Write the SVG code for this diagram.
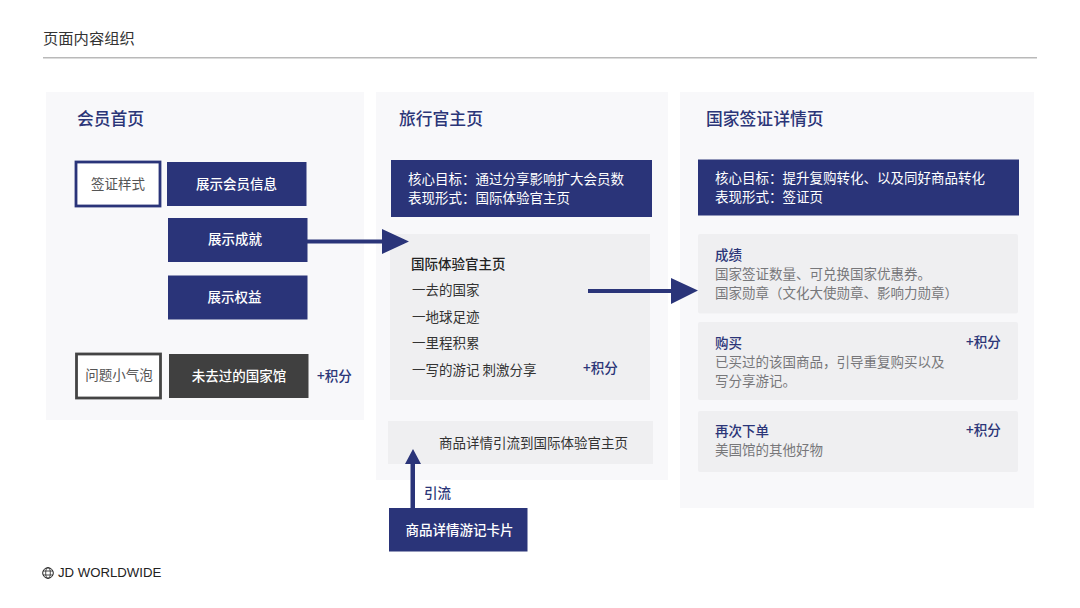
<svg xmlns="http://www.w3.org/2000/svg" width="1080" height="608" viewBox="0 0 1080 608">
<style>
text{font-family:"Noto Sans CJK SC","Liberation Sans",sans-serif;font-size:13.5px;fill:#333}
.h{font-size:16.8px;fill:#2b3578;font-weight:500}
.w{fill:#fff;font-weight:500}
.c{text-anchor:middle}
.n{fill:#2a3479}
.s{fill:#2b3578;font-weight:500;font-size:13.5px}
.g{fill:#77777a}
.p{fill:#f8f8fa}
.q{fill:#efeff1}
.f{fill:#2a3479;stroke:none}
</style>
<rect width="1080" height="608" fill="#fff"/>
<text x="43" y="43.500" style="font-size:15.300px" fill="#222">页面内容组织</text>
<rect x="43" y="57" width="994" height="1.5" fill="#b9b9b9"/>
<g id="panel-member">
<rect class="p" x="46" y="92" width="318" height="328"/>
<text class="h" x="77" y="124.500">会员首页</text>
</g>
<g id="panel-guide">
<rect class="p" x="376" y="92" width="292" height="388"/>
<text class="h" x="399" y="124.500">旅行官主页</text>
</g>
<g id="panel-visa">
<rect class="p" x="680" y="92" width="354" height="416"/>
<text class="h" x="706" y="124.500">国家签证详情页</text>
</g>
<g id="node-visa-style">
<rect x="76" y="162" width="84" height="44" fill="#fff" stroke="#2a3479" stroke-width="2.800"/>
<text class="c" x="118" y="188.500" style="fill:#555">签证样式</text>
</g>
<g id="node-member-info">
<rect class="n" x="167" y="162" width="139.500" height="44"/>
<text class="c w" x="236.500" y="188.500">展示会员信息</text>
</g>
<g id="node-achievement">
<rect class="n" x="168" y="218" width="139.500" height="44"/>
<text class="c w" x="235" y="244">展示成就</text>
</g>
<g id="node-rights">
<rect class="n" x="168" y="275.500" width="139.500" height="44"/>
<text class="c w" x="234.500" y="302">展示权益</text>
</g>
<g id="node-bubble">
<rect x="76.500" y="354" width="84" height="44" fill="#fff" stroke="#444" stroke-width="2.800"/>
<text class="c" x="119" y="380" style="fill:#555">问题小气泡</text>
</g>
<g id="node-pavilion">
<rect x="169" y="354" width="139.500" height="44" fill="#404040"/>
<text class="c w" x="239" y="380.500">未去过的国家馆</text>
</g>
<text class="s" x="317" y="381">+积分</text>
<g id="node-guide-goal">
<rect class="n" x="391" y="160" width="261" height="57"/>
<text class="w" style="font-weight:400" x="408" y="184">核心目标：通过分享影响扩大会员数</text>
<text class="w" style="font-weight:400" x="408" y="203">表现形式：国际体验官主页</text>
</g>
<g id="node-guide-home">
<rect class="q" x="390" y="234" width="260" height="166"/>
<text x="411" y="269" style="font-weight:500;fill:#222">国际体验官主页</text>
<text x="412" y="295">一去的国家</text>
<text x="412" y="321.500">一地球足迹</text>
<text x="412" y="348">一里程积累</text>
<text x="412" y="374.500">一写的游记 刺激分享</text>
<text class="s" x="583" y="372.500">+积分</text>
</g>
<g id="node-product-link">
<rect class="q" x="388" y="421" width="265" height="43"/>
<text x="439" y="448">商品详情引流到国际体验官主页</text>
</g>
<g id="node-product-card">
<rect class="n" x="389" y="508" width="138.500" height="43.500"/>
<text class="c w" x="459.500" y="535">商品详情游记卡片</text>
</g>
<text class="s" x="424" y="498">引流</text>
<g id="node-visa-goal">
<rect class="n" x="698" y="159.500" width="321" height="56"/>
<text class="w" style="font-weight:400" x="715" y="183">核心目标：提升复购转化、以及同好商品转化</text>
<text class="w" style="font-weight:400" x="715" y="202">表现形式：签证页</text>
</g>
<g id="node-score">
<rect class="q" x="698" y="234" width="320" height="79.500" rx="2"/>
<text class="s" x="715" y="260">成绩</text>
<text class="g" x="715" y="279">国家签证数量、可兑换国家优惠券。</text>
<text class="g" x="715" y="298">国家勋章（文化大使勋章、影响力勋章）</text>
</g>
<g id="node-buy">
<rect class="q" x="698" y="322" width="320" height="78" rx="2"/>
<text class="s" x="715" y="348">购买</text>
<text class="g" x="715" y="367">已买过的该国商品，引导重复购买以及</text>
<text class="g" x="715" y="386">写分享游记。</text>
<text class="s" x="966" y="347">+积分</text>
</g>
<g id="node-reorder">
<rect class="q" x="698" y="411" width="320" height="61" rx="2"/>
<text class="s" x="715" y="436">再次下单</text>
<text class="g" x="715" y="455">美国馆的其他好物</text>
<text class="s" x="966" y="435">+积分</text>
</g>
<g id="connectors">
<path class="f" d="M307 239.500H382V229L409 241.500L382 254V243.500H307Z"/>
<path class="f" d="M588 289H671V278L698 290.500L671 304V293H588Z"/>
<path class="f" d="M410.500 508V464H405L413 449L421 464H415V508Z"/>
</g>
<g id="logo">
<circle cx="48" cy="573" r="5.300" fill="none" stroke="#222" stroke-width="1"/>
<ellipse cx="48" cy="573" rx="2.300" ry="5.300" fill="none" stroke="#222" stroke-width="0.800"/>
<path d="M43 571H53M43 575H53" stroke="#222" stroke-width="0.800" fill="none"/>
<text x="58" y="577" style="font-family:'Liberation Sans',sans-serif;font-size:13.200px;fill:#222">JD WORLDWIDE</text>
</g>
</svg>
